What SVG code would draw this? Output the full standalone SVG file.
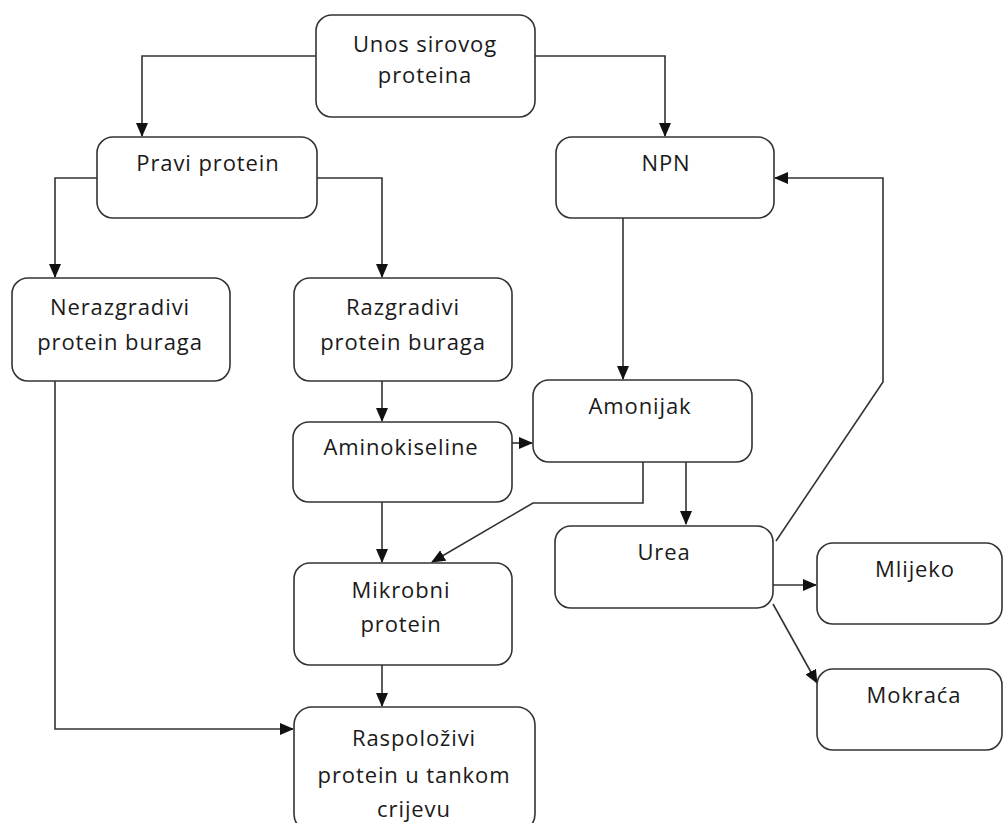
<svg xmlns="http://www.w3.org/2000/svg" width="1004" height="823" viewBox="0 0 1004 823">
<style>
.box{fill:#fff;stroke:#333;stroke-width:1.6}
.lbl{font-family:"Open Sans","DejaVu Sans",sans-serif;font-size:22px;letter-spacing:0.9px;fill:#1a1a1a;text-anchor:middle}
.con{fill:none;stroke:#333;stroke-width:1.6}
</style>
<defs>
<marker id="ah" markerUnits="userSpaceOnUse" markerWidth="14" markerHeight="12" refX="13" refY="6" orient="auto">
<path d="M0,0 L14,6 L0,12 z" fill="#111"/>
</marker>
</defs>
<rect width="1004" height="823" fill="#fff"/>
<g id="connectors">
<path class="con" d="M316,56 H142 V136" marker-end="url(#ah)"/>
<path class="con" d="M535,56 H665 V136" marker-end="url(#ah)"/>
<path class="con" d="M97,178 H55 V277" marker-end="url(#ah)"/>
<path class="con" d="M317,178 H382 V277" marker-end="url(#ah)"/>
<path class="con" d="M382,381 V421" marker-end="url(#ah)"/>
<path class="con" d="M623,218 V379" marker-end="url(#ah)"/>
<path class="con" d="M512,443 H532" marker-end="url(#ah)"/>
<path class="con" d="M643,462 V503 H533 L432,562" marker-end="url(#ah)"/>
<path class="con" d="M686,462 V524" marker-end="url(#ah)"/>
<path class="con" d="M382,502 V562" marker-end="url(#ah)"/>
<path class="con" d="M776,541 L883,382 V178 H775" marker-end="url(#ah)"/>
<path class="con" d="M773,585 H816" marker-end="url(#ah)"/>
<path class="con" d="M773,604 L817,683" marker-end="url(#ah)"/>
<path class="con" d="M382,665 V706" marker-end="url(#ah)"/>
<path class="con" d="M55,381 V729 H293" marker-end="url(#ah)"/>
</g>
<g id="unos"><rect class="box" x="316" y="15" width="219" height="102" rx="16"/><text class="lbl" x="425" y="52">Unos sirovog</text><text class="lbl" x="425" y="83">proteina</text></g>
<g id="pravi"><rect class="box" x="97" y="137" width="220" height="81" rx="16"/><text class="lbl" x="208" y="171">Pravi protein</text></g>
<g id="npn"><rect class="box" x="556" y="137" width="218" height="81" rx="16"/><text class="lbl" x="666" y="171">NPN</text></g>
<g id="nerazgradivi"><rect class="box" x="12" y="278" width="218" height="103" rx="16"/><text class="lbl" x="120" y="315">Nerazgradivi</text><text class="lbl" x="120" y="350">protein buraga</text></g>
<g id="razgradivi"><rect class="box" x="294" y="278" width="218" height="103" rx="16"/><text class="lbl" x="403" y="315">Razgradivi</text><text class="lbl" x="403" y="350">protein buraga</text></g>
<g id="aminokiseline"><rect class="box" x="293" y="422" width="219" height="80" rx="16"/><text class="lbl" x="401" y="455">Aminokiseline</text></g>
<g id="amonijak"><rect class="box" x="533" y="380" width="219" height="82" rx="16"/><text class="lbl" x="640" y="414">Amonijak</text></g>
<g id="urea"><rect class="box" x="555" y="526" width="218" height="82" rx="16"/><text class="lbl" x="664" y="560">Urea</text></g>
<g id="mikrobni"><rect class="box" x="294" y="563" width="218" height="102" rx="16"/><text class="lbl" x="401" y="598">Mikrobni</text><text class="lbl" x="401" y="632">protein</text></g>
<g id="raspolozivi"><rect class="box" x="294" y="707" width="241" height="125" rx="18"/><text class="lbl" x="414" y="746">Raspoloživi</text><text class="lbl" x="414" y="783">protein u tankom</text><text class="lbl" x="414" y="817">crijevu</text></g>
<g id="mlijeko"><rect class="box" x="817" y="543" width="185" height="81" rx="16"/><text class="lbl" x="915" y="577">Mlijeko</text></g>
<g id="mokraca"><rect class="box" x="817" y="669" width="185" height="81" rx="16"/><text class="lbl" x="914" y="703">Mokraća</text></g>
</svg>
